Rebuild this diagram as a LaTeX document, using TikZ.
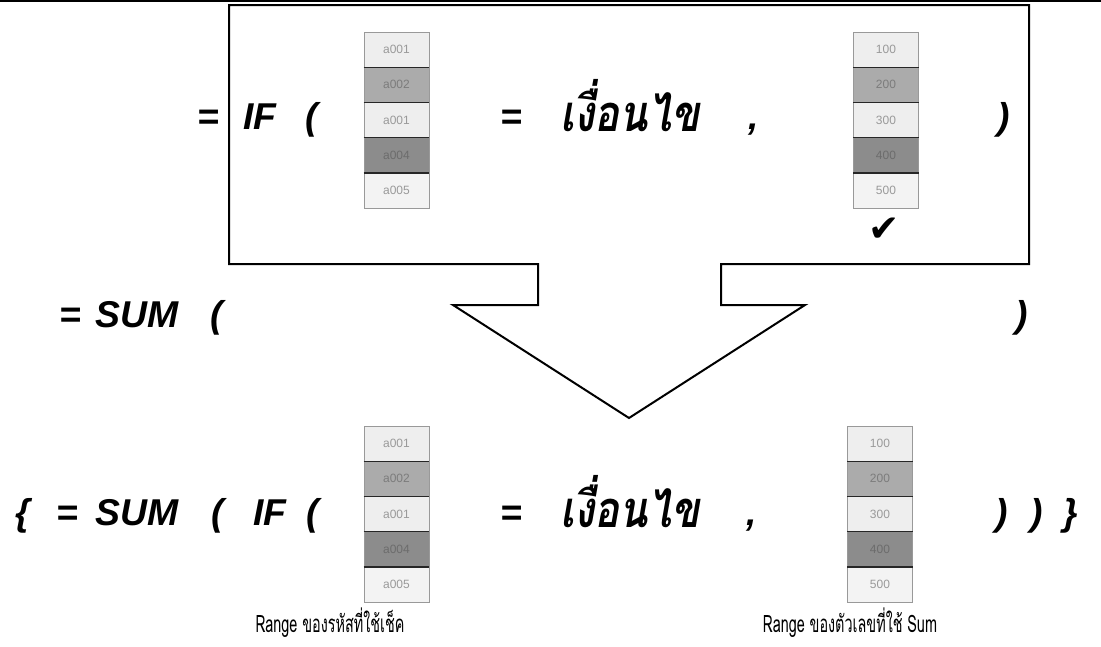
\documentclass[tikz,border=0pt]{standalone}
\usepackage{fontspec}
\setmainfont{Liberation Sans}
\newfontfamily\thaifont[Script=Thai, FakeStretch=0.82]{Loma}
\newfontfamily\thaicond[Script=Thai, FakeStretch=0.6]{Loma}
\newfontfamily\symfont{DejaVu Sans}

\definecolor{cellA}{HTML}{EEEEEE}
\definecolor{cellB}{HTML}{ABABAB}
\definecolor{cellC}{HTML}{8C8C8C}
\definecolor{cellD}{HTML}{F3F3F3}
\definecolor{txtA}{HTML}{999999}
\definecolor{txtB}{HTML}{7C7C7C}
\definecolor{txtC}{HTML}{6C6C6C}

\begin{document}
\begin{tikzpicture}[x=0.75pt, y=-0.75pt,
  fx/.style={font=\fontsize{28}{32}\selectfont\bfseries\itshape, anchor=base west, inner sep=0pt},
  thx/.style={font=\fontsize{38}{40}\selectfont\thaifont\bfseries\itshape, anchor=base west, inner sep=0pt},
  cell/.style={draw=gray!80, minimum width=48.75pt, minimum height=26.4pt, inner sep=0pt, font=\fontsize{9}{10}\selectfont},
  sep/.style={line width=0.9pt, black!85},
  rangelabel/.style={font=\fontsize{18}{20}\selectfont\thaicond, anchor=base, inner sep=0pt}]
\useasboundingbox (0,0) rectangle (1101,647);

\draw[line width=1.5pt] (0,1) -- (1101,1);

\draw[line width=1.5pt] (229,5) -- (1029,5) -- (1029,264) -- (721,264) -- (721,305) -- (805,305)
  -- (629,418) -- (453,305) -- (538,305) -- (538,264) -- (229,264) -- cycle;

\foreach \v/\f/\t [count=\i] in {a001/cellA/txtA,a002/cellB/txtB,a001/cellA/txtA,a004/cellC/txtC,a005/cellD/txtA}{
  \node[cell, fill=\f, text=\t] (codeT\i) at (396.5, 14.4+35.2*\i) {\v};
  \node[cell, fill=\f, text=\t] (codeB\i) at (396.5, 408.4+35.2*\i) {\v};
}
\foreach \v/\f/\t [count=\i] in {100/cellA/txtA,200/cellB/txtB,300/cellA/txtA,400/cellC/txtC,500/cellD/txtA}{
  \node[cell, fill=\f, text=\t] (numT\i) at (886, 14.4+35.2*\i) {\v};
  \node[cell, fill=\f, text=\t] (numB\i) at (880, 408.4+35.2*\i) {\v};
}
\foreach \i in {1,...,4}{
  \draw[sep] (codeT\i.south west) -- (codeT\i.south east);
  \draw[sep] (codeB\i.south west) -- (codeB\i.south east);
  \draw[sep] (numT\i.south west) -- (numT\i.south east);
  \draw[sep] (numB\i.south west) -- (numB\i.south east);
}

\node[font=\fontsize{28}{30}\selectfont\symfont] (tick) at (884,230) {✔};

\node[fx] (eqA) at (197,129) {=};
\node[fx] (ifA) at (243,129) {IF};
\node[fx] (opA) at (305,129) {(};
\node[fx] (eqB) at (500,129) {=};
\node[thx] (condA) at (560,131) {เงื่อนไข};
\node[fx] (cmA) at (748,129) {,};
\node[fx] (cpA) at (997,129) {)};

\node[fx] (eqC) at (59,327) {=};
\node[fx] (sumA) at (95,327) {SUM};
\node[fx] (opB) at (210,327) {(};
\node[fx] (cpB) at (1015,327) {)};

\node[fx] (brL) at (15,525) {\{};
\node[fx] (eqD) at (56,525) {=};
\node[fx] (sumB) at (95,525) {SUM};
\node[fx] (opC) at (211,525) {(};
\node[fx] (ifB) at (253,525) {IF};
\node[fx] (opD) at (306,525) {(};
\node[fx] (eqE) at (500,525) {=};
\node[thx] (condB) at (560,527) {เงื่อนไข};
\node[fx] (cmB) at (746,525) {,};
\node[fx] (cpC) at (995,525) {)};
\node[fx] (cpD) at (1030,525) {)};
\node[fx] (brR) at (1063,525) {\}};

\node[rangelabel] (codeLabel) at (330,632) {Range ของรหัสที่ใช้เช็ค};
\node[rangelabel] (numLabel) at (850,632) {Range ของตัวเลขที่ใช้ Sum};
\end{tikzpicture}
\end{document}
